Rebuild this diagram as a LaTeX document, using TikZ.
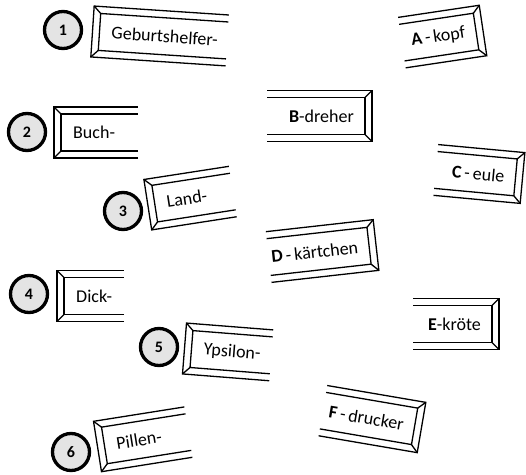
\documentclass[tikz,border=0pt]{standalone}
\usepackage{fontspec}
\setmainfont{Carlito}
\definecolor{circfill}{HTML}{E4E4E4}
\tikzset{
  frame/.style={draw=black, line width=1.3pt, line join=miter},
  lbl/.style={inner sep=0pt, font=\fontsize{18}{20}\selectfont},
  numcirc/.style={circle, draw=black, line width=3.3pt, fill=circfill, minimum size=37pt, inner sep=0pt, font=\fontsize{16}{18}\selectfont\bfseries}
}
% left piece: name, x, y (mid of closed left edge), rotation, width, text
\newcommand\lpiece[6]{%
  \begin{scope}[shift={(#2,#3)}, rotate=#4]
    \draw[frame] (#5,-25.5) -- (0,-25.5) -- (0,25.5) -- (#5,25.5);
    \draw[frame] (#5,-18.5) -- (7,-18.5) -- (7,18.5) -- (#5,18.5);
    \draw[frame] (0,-25.5) -- (7,-18.5) (0,25.5) -- (7,18.5);
    \node[lbl, anchor=west, rotate=#4] (#1) at (19,0) {#6};
  \end{scope}}
% right piece: name, x, y (mid of closed right edge), rotation, width, text
\newcommand\rpiece[6]{%
  \begin{scope}[shift={(#2,#3)}, rotate=#4]
    \draw[frame] (-#5,25.5) -- (0,25.5) -- (0,-25.5) -- (-#5,-25.5);
    \draw[frame] (-#5,18.5) -- (-7,18.5) -- (-7,-18.5) -- (-#5,-18.5);
    \draw[frame] (0,25.5) -- (-7,18.5) (0,-25.5) -- (-7,-18.5);
    \node[lbl, anchor=east, rotate=#4] (#1) at (-18,0) {#6};
  \end{scope}}
\begin{document}
\begin{tikzpicture}[x=1pt, y=1pt]
\useasboundingbox (0,0) rectangle (526,474);
% number circles
\node[numcirc] (n1) at (63,444) {1};
\node[numcirc] (n2) at (27,342) {2};
\node[numcirc] (n3) at (123,263) {3};
\node[numcirc] (n4) at (29,180) {4};
\node[numcirc] (n5) at (159,127) {5};
\node[numcirc] (n6) at (71,22) {6};
% left pieces
\lpiece{p1}{92.5}{442.5}{-3.8}{135}{Geburtshelfer-}
\lpiece{p2}{54}{341.5}{0}{84}{Buch-}
\lpiece{p3}{147.8}{269.3}{8.8}{86}{Land-}
\lpiece{p4}{57}{178}{0}{67}{Dick-}
\lpiece{p5}{184.5}{125.5}{-4.5}{87}{Ypsilon-}
\lpiece{p6}{97.5}{27.5}{9}{92}{Pillen-}
% right pieces
\rpiece{pA}{483}{443.5}{8.5}{82}{\textbf{A}\,-\,kopf}
\rpiece{pB}{372}{358}{0}{105}{\textbf{B}-dreher}
\rpiece{pC}{522.5}{296}{-5.3}{87}{\textbf{C}\,-\,eule}
\rpiece{pD}{376}{229}{6.4}{108}{\textbf{D}\,-\,kärtchen}
\rpiece{pE}{499}{150}{0}{86}{\textbf{E}-kröte}
\rpiece{pF}{421.5}{46.5}{-9.7}{100}{\textbf{F}\,-\,drucker}
\end{tikzpicture}
\end{document}
